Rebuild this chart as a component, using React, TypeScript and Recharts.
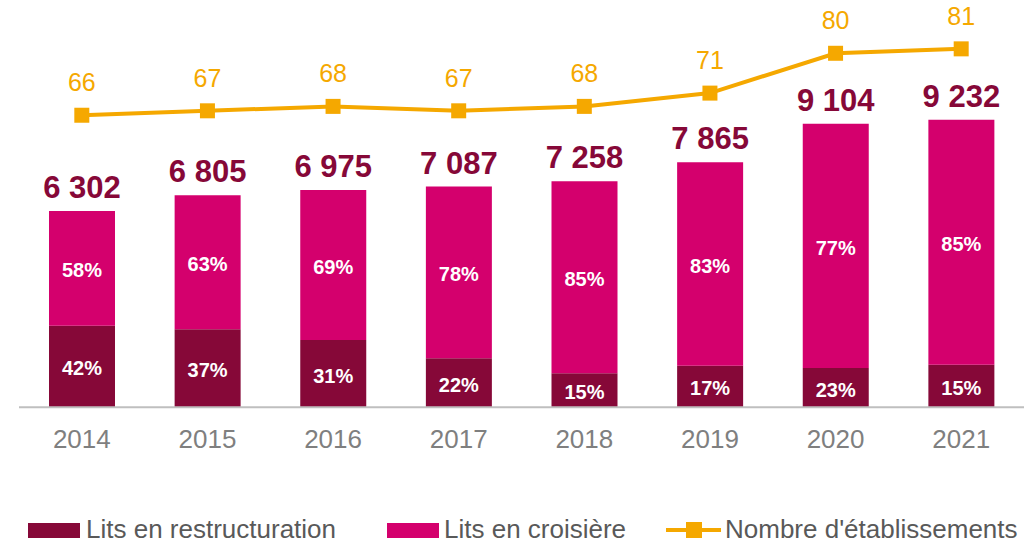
import { Bar, ComposedChart, LabelList, Legend, Line, XAxis, YAxis } from 'recharts';

const years = ['2014', '2015', '2016', '2017', '2018', '2019', '2020', '2021'];
const totals = [6302, 6805, 6975, 7087, 7258, 7865, 9104, 9232];
// bar segment heights
const restructuration = [2620, 2504, 2160, 1573, 1091, 1336, 1262, 1368];
const croisiere = [3682, 4301, 4815, 5514, 6167, 6529, 7842, 7864];
const pctRestructuration = ['42%', '37%', '31%', '22%', '15%', '17%', '23%', '15%'];
const pctCroisiere = ['58%', '63%', '69%', '78%', '85%', '83%', '77%', '85%'];
const etablissements = [66, 67, 68, 67, 68, 71, 80, 81];

const DARK = '#860838';
const MAGENTA = '#D4006D';
const ORANGE = '#F5A800';
const FONT = '"Liberation Sans", Arial, sans-serif';

const fmt = (n: number) => String(n).replace(/\B(?=(\d{3})+(?!\d))/g, ' ');

const data = years.map((year, i) => ({
  year,
  restructuration: restructuration[i],
  croisiere: croisiere[i],
  etablissements: etablissements[i],
  total: fmt(totals[i]),
  pctR: pctRestructuration[i],
  pctC: pctCroisiere[i],
}));

const SegmentLabel = (props: any) => {
  const { x, y, width, height, value } = props;
  return (
    <text x={x + width / 2} y={y + height / 2 + 2} textAnchor="middle" dominantBaseline="central"
      fill="#fff" fontSize={20} fontWeight="bold" fontFamily={FONT}>{value}</text>
  );
};

const TotalLabel = (props: any) => {
  const { x, y, width, value } = props;
  return (
    <text x={x + width / 2} y={y - 13} textAnchor="middle" fill={DARK} fontSize={31}
      fontWeight="bold" fontFamily={FONT}>{value}</text>
  );
};

const LineLabel = (props: any) => {
  const { x, y, value } = props;
  return (
    <text x={x} y={y - 24} textAnchor="middle" fill={ORANGE} fontSize={25} fontFamily={FONT}>{value}</text>
  );
};

const SquareDot = (props: any) => {
  const { cx, cy, index } = props;
  return <rect key={index} x={cx - 7.5} y={cy - 7.5} width={15} height={15} fill={ORANGE} />;
};

const YearTick = (props: any) => {
  const { x, y, payload } = props;
  return (
    <text x={x} y={y + 41} textAnchor="middle" fill="#7F7F7F" fontSize={26} fontFamily={FONT}>
      {payload.value}
    </text>
  );
};

const LegendContent = () => (
  <div style={{ position: 'relative', width: 1035, height: 30, fontFamily: FONT, fontSize: 26, color: '#595959', lineHeight: '30px' }}>
    <div style={{ position: 'absolute', left: 28, top: 9, width: 52, height: 15, background: DARK }} />
    <span style={{ position: 'absolute', left: 86, top: 0, whiteSpace: 'nowrap' }}>Lits en restructuration</span>
    <div style={{ position: 'absolute', left: 387, top: 9, width: 52, height: 15, background: MAGENTA }} />
    <span style={{ position: 'absolute', left: 444, top: 0, whiteSpace: 'nowrap' }}>Lits en croisière</span>
    <svg style={{ position: 'absolute', left: 666, top: 0 }} width={56} height={30}>
      <line x1={0} y1={16} x2={55} y2={16} stroke={ORANGE} strokeWidth={4} />
      <rect x={20} y={8} width={16} height={16} fill={ORANGE} />
    </svg>
    <span style={{ position: 'absolute', left: 725, top: 0, whiteSpace: 'nowrap' }}>Nombre d'établissements</span>
  </div>
);

export default function App() {
  return (
    <div style={{ position: 'absolute', left: 0, top: 0, background: '#fff' }}>
      <ComposedChart width={1035} height={542} data={data} margin={{ top: 33.5, right: 11, bottom: 0, left: 19 }}>
        <XAxis dataKey="year" height={134.7} axisLine={{ stroke: '#BFBFBF', strokeWidth: 2 }} tickLine={false}
          tickSize={0} tickMargin={0} tick={<YearTick />} interval={0} />
        <YAxis yAxisId="left" hide domain={[0, 12000]} />
        <YAxis yAxisId="right" orientation="right" hide domain={[0, 84.47]} />
        <Legend layout="horizontal" verticalAlign="middle" align="center" content={<LegendContent />}
          wrapperStyle={{ top: 514, left: 0, width: 1035 }} />
        <Bar yAxisId="left" dataKey="restructuration" stackId="a" fill={DARK} barSize={66} isAnimationActive={false}>
          <LabelList dataKey="pctR" content={<SegmentLabel />} />
        </Bar>
        <Bar yAxisId="left" dataKey="croisiere" stackId="a" fill={MAGENTA} barSize={66} isAnimationActive={false}>
          <LabelList dataKey="pctC" content={<SegmentLabel />} />
          <LabelList dataKey="total" content={<TotalLabel />} />
        </Bar>
        <Line yAxisId="right" dataKey="etablissements" stroke={ORANGE} strokeWidth={4} dot={<SquareDot />}
          activeDot={false} isAnimationActive={false}>
          <LabelList dataKey="etablissements" content={<LineLabel />} />
        </Line>
      </ComposedChart>
    </div>
  );
}
